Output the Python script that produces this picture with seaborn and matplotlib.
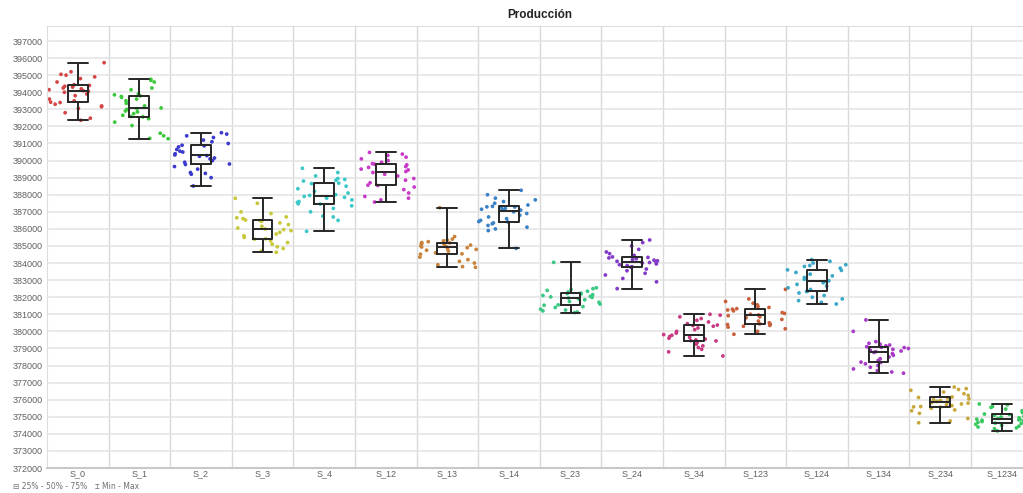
import numpy as np
import pandas as pd
import matplotlib
matplotlib.use("Agg")
import matplotlib.pyplot as plt
import seaborn as sns

# Categories and values
categories = ["S_0", "S_1", "S_2", "S_3", "S_4", "S_12", "S_13", "S_14",
              "S_23", "S_24", "S_34", "S_123", "S_124", "S_134", "S_234", "S_1234"]

s_0 = [392360, 392480, 392800, 393050, 393150, 393200, 393300, 393400, 393420, 393500,
       393600, 393800, 393900, 394000, 394050, 394090, 394150, 394200, 394250, 394300,
       394350, 394400, 394440, 394600, 394800, 394900, 395000, 395050, 395200, 395730]
s_1 = [391280, 391300, 391450, 391600, 392050, 392250, 392450, 392560, 392580, 392650,
       392750, 392850, 392900, 393000, 393040, 393080, 393200, 393350, 393500, 393600,
       393700, 393750, 393790, 393850, 393900, 394150, 394250, 394600, 394700, 394760]
s_2 = [388510, 389000, 389200, 389250, 389300, 389500, 389650, 389770, 389800, 389900,
       390000, 390100, 390150, 390250, 390290, 390330, 390400, 390500, 390550, 390650,
       390800, 390860, 390900, 391000, 391100, 391200, 391350, 391450, 391550, 391630]
s_3 = [384630, 384700, 384850, 384950, 385100, 385200, 385300, 385400, 385420, 385500,
       385600, 385700, 385800, 385900, 385960, 386000, 386050, 386150, 386250, 386350,
       386450, 386490, 386520, 386600, 386650, 386700, 386900, 387000, 387500, 387790]
s_4 = [385860, 386500, 386700, 386750, 387000, 387200, 387350, 387450, 387470, 387550,
       387600, 387700, 387800, 387850, 387900, 387960, 388000, 388100, 388200, 388350,
       388500, 388650, 388680, 388800, 388850, 388900, 388950, 389100, 389300, 389550]
s_12 = [387570, 387700, 387800, 387900, 388100, 388300, 388450, 388540, 388560, 388700,
        388850, 388950, 389100, 389200, 389300, 389360, 389450, 389500, 389600, 389650,
        389750, 389790, 389820, 389900, 390000, 390100, 390200, 390300, 390380, 390480]
s_13 = [383750, 383790, 383900, 384000, 384100, 384200, 384350, 384520, 384540, 384600,
        384700, 384750, 384800, 384850, 384900, 384940, 384980, 385000, 385050, 385100,
        385130, 385150, 385180, 385200, 385250, 385300, 385350, 385400, 385550, 387240]
s_14 = [384860, 385900, 386000, 386100, 386200, 386300, 386350, 386410, 386430, 386500,
        386600, 386700, 386800, 386900, 387000, 387100, 387130, 387150, 387200, 387250,
        387280, 387290, 387320, 387400, 387500, 387600, 387700, 387800, 388000, 388260]
s_23 = [381100, 381130, 381200, 381250, 381300, 381400, 381450, 381530, 381550, 381600,
        381700, 381750, 381850, 381900, 381950, 381990, 382020, 382050, 382100, 382150,
        382200, 382210, 382240, 382300, 382350, 382400, 382450, 382500, 382550, 384040]
s_24 = [382500, 382900, 383100, 383300, 383400, 383550, 383650, 383760, 383780, 383850,
        383900, 383950, 384000, 384030, 384060, 384100, 384130, 384170, 384200, 384250,
        384300, 384330, 384360, 384450, 384550, 384650, 384800, 385000, 385200, 385350]
s_34 = [378560, 378800, 378950, 379050, 379150, 379250, 379350, 379440, 379460, 379500,
        379550, 379600, 379650, 379700, 379770, 379810, 379900, 380000, 380100, 380200,
        380300, 380340, 380370, 380450, 380550, 380650, 380750, 380850, 380950, 381000]
s_123 = [379830, 380000, 380150, 380250, 380300, 380350, 380400, 380420, 380440, 380500,
         380600, 380700, 380800, 380850, 380920, 380960, 381000, 381050, 381100, 381200,
         381250, 381300, 381330, 381400, 381450, 381550, 381650, 381750, 381900, 382460]
s_124 = [381600, 381700, 381800, 381900, 382000, 382100, 382250, 382330, 382350, 382450,
         382550, 382650, 382750, 382850, 382900, 382960, 383050, 383150, 383250, 383350,
         383450, 383570, 383600, 383700, 383800, 383850, 383900, 384000, 384100, 384200]
s_134 = [377550, 377620, 377700, 377800, 377900, 378000, 378100, 378180, 378200, 378300,
         378400, 378500, 378600, 378700, 378770, 378810, 378850, 378900, 378950, 379000,
         379050, 379070, 379100, 379150, 379200, 379250, 379300, 379400, 380000, 380670]
s_234 = [374650, 374750, 374900, 375200, 375350, 375400, 375500, 375560, 375580, 375600,
         375650, 375700, 375750, 375800, 375830, 375870, 375900, 375950, 376000, 376050,
         376100, 376130, 376160, 376250, 376350, 376450, 376550, 376600, 376650, 376740]
s_1234 = [374170, 374300, 374350, 374400, 374450, 374500, 374560, 374610, 374630, 374680,
          374720, 374760, 374800, 374820, 374840, 374860, 374900, 374940, 374980, 375020,
          375080, 375130, 375160, 375250, 375350, 375450, 375550, 375600, 375700, 375750]

colors = ["#d64545", "#3cc83c", "#3a3acc", "#c8c83a", "#3ac8c8", "#c83ac8", "#c8823a", "#3a82c8",
          "#3ac882", "#823ac8", "#c83a82", "#c8603a", "#3aa8c8", "#a83ac8", "#c8a83a", "#3ac860"]

series = [s_0, s_1, s_2, s_3, s_4, s_12, s_13, s_14,
          s_23, s_24, s_34, s_123, s_124, s_134, s_234, s_1234]

# long format table for seaborn
df = pd.DataFrame({
    "escenario": np.repeat(categories, [len(s) for s in series]),
    "produccion": np.concatenate(series),
})

sns.set_style("white")
plt.rcParams["font.family"] = ["Liberation Sans", "DejaVu Sans"]

fig = plt.figure(figsize=(10.23, 4.93), dpi=100)
ax = fig.add_axes([0.0459, 0.0507, 0.9634, 0.8966])

np.random.seed(3)
sns.stripplot(data=df, x="escenario", y="produccion", hue="escenario", order=categories,
              palette=dict(zip(categories, colors)), jitter=0.49, size=2.7, linewidth=0,
              legend=False, ax=ax, zorder=2)
sns.boxplot(data=df, x="escenario", y="produccion", order=categories, whis=(0, 100),
            fill=False, color="#262626", width=0.32, linewidth=1.4, showfliers=False,
            capwidths=0.32, ax=ax, zorder=3)

# axes, grid
ax.set_xlim(-0.5, 15.5)
ax.set_ylim(372000, 397880)
ax.set_yticks(np.arange(372000, 397001, 1000))
ax.set_yticklabels([str(v) for v in range(372000, 397001, 1000)])
ax.set_xticks(np.arange(0.5, 15.5, 1), minor=True)
ax.grid(axis="y", which="major", color="#e3e3e3", linewidth=1.1)
ax.grid(axis="x", which="minor", color="#d9d9d9", linewidth=1.0)
ax.set_axisbelow(True)
ax.tick_params(axis="both", which="both", length=0, labelsize=6.5, labelcolor="#606060")
ax.tick_params(axis="y", pad=3)
ax.tick_params(axis="x", pad=1)
for sp in ax.spines.values():
    sp.set_color("#dddddd")
ax.spines["bottom"].set_color("#c8c8c8")
ax.spines["bottom"].set_linewidth(1.5)
ax.set_xlabel("")
ax.set_ylabel("")
ax.set_title("Producción", fontsize=8.5, fontweight="bold", color="#222222", pad=6)

# small key below the chart
fig.text(0.013, 0.008, "\u229f 25% - 50% - 75%", fontsize=5.5, color="#707070",
         family=["DejaVu Sans"])
fig.text(0.093, 0.008, "\u2336 Min - Max", fontsize=5.5, color="#707070",
         family=["DejaVu Sans", "DejaVu Sans Mono"])

fig.savefig("out.png", dpi=100)
